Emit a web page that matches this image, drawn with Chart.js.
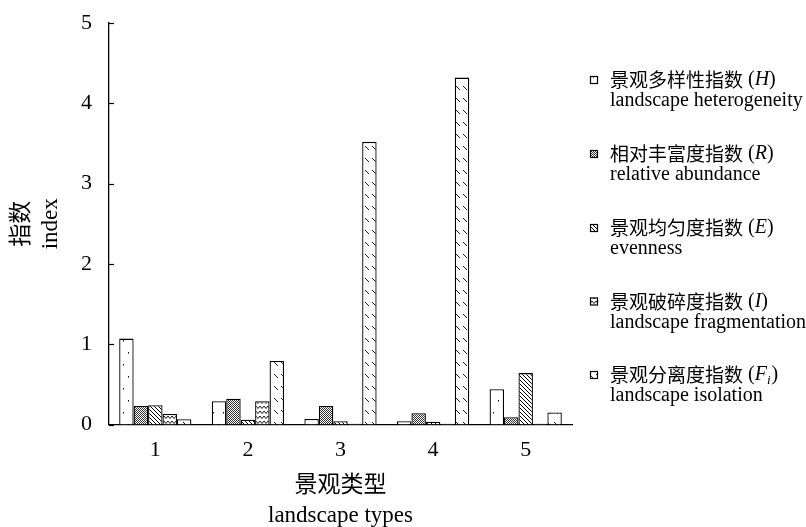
<!DOCTYPE html>
<html>
<head>
<meta charset="utf-8">
<script src="https://cdn.jsdelivr.net/npm/chart.js@4.4.1/dist/chart.umd.min.js"></script>
<style>
  html, body { margin: 0; padding: 0; background: #fff; }
  #wrap { width: 806px; height: 527px; }
</style>
</head>
<body>
<div id="wrap"><canvas id="myChart" width="806" height="527"></canvas></div>
<script>
var categories = ["1", "2", "3", "4", "5"];
var valuesH  = [1.07, 0.29, 0.07, 0.04, 0.44];
var valuesR  = [0.23, 0.32, 0.23, 0.14, 0.09];
var valuesE  = [0.24, 0.06, 0.04, 0.035, 0.64];
var valuesI  = [0.13, 0.29, 0.01, 0.01, 0.01];
var valuesFi = [0.065, 0.79, 3.52, 4.32, 0.15];
var yTicks = [0, 1, 2, 3, 4, 5];

var seriesZh  = ["景观多样性指数", "相对丰富度指数", "景观均匀度指数", "景观破碎度指数", "景观分离度指数"];
var seriesSym = ["H", "R", "E", "I", "F"];
var seriesSub = ["", "", "", "", "i"];
var seriesEn  = ["landscape heterogeneity", "relative abundance", "evenness", "landscape fragmentation", "landscape isolation"];

var serif = "'Liberation Serif', 'Noto Sans CJK SC', serif";
var cjk = "'Noto Sans CJK SC', 'Liberation Serif', sans-serif";

// little hatch tiles for the bar fills
function makePattern(w, h, draw) {
  var c = document.createElement("canvas");
  c.width = w; c.height = h;
  var g = c.getContext("2d");
  g.fillStyle = "#fff";
  g.fillRect(0, 0, w, h);
  g.fillStyle = "#000";
  g.strokeStyle = "#000";
  draw(g);
  return document.getElementById("myChart").getContext("2d").createPattern(c, "repeat");
}

var patDots = makePattern(10, 24, function (g) {
  g.fillRect(3, 4, 1, 1.5);
  g.fillRect(8, 16, 1, 1.5);
});
var patCross = makePattern(2, 2, function (g) {
  g.fillStyle = "#333";
  g.fillRect(0, 0, 1, 1);
  g.fillRect(1, 1, 1, 1);
});
var patDiag = makePattern(4, 4, function (g) {
  for (var i = 0; i < 4; i++) g.fillRect(i, i, 1, 1);
});
var patWave = makePattern(8, 5, function (g) {
  g.lineWidth = 0.9;
  g.beginPath();
  g.moveTo(0, 1); g.lineTo(2, 3.5); g.lineTo(4, 1); g.lineTo(6, 3.5); g.lineTo(8, 1);
  g.stroke();
});
var patDash = makePattern(7, 12, function (g) {
  g.lineWidth = 0.9;
  g.beginPath();
  g.moveTo(1, 2); g.lineTo(5, 6);
  g.stroke();
});

var fills = [patDots, patCross, patDiag, patWave, patDash];
var allValues = [valuesH, valuesR, valuesE, valuesI, valuesFi];

var datasets = allValues.map(function (vals, i) {
  return {
    label: seriesZh[i] + " (" + seriesSym[i] + seriesSub[i] + ") " + seriesEn[i],
    data: vals,
    backgroundColor: fills[i],
    borderColor: "#000",
    borderWidth: 1.3,
    categoryPercentage: 0.78,
    barPercentage: 1.0
  };
});

// ticks on the y axis point inward
var innerTicks = {
  id: "innerTicks",
  afterDraw: function (chart) {
    var ctx = chart.ctx, y = chart.scales.y, left = chart.chartArea.left;
    ctx.save();
    ctx.strokeStyle = "#000";
    ctx.lineWidth = 1.2;
    yTicks.forEach(function (v) {
      var py = Math.round(y.getPixelForValue(v)) + 0.5;
      ctx.beginPath();
      ctx.moveTo(left, py);
      ctx.lineTo(left + 5, py);
      ctx.stroke();
    });
    ctx.restore();
  }
};

// two-line legend at the right, symbol in italics
var sideLegend = {
  id: "sideLegend",
  afterDraw: function (chart) {
    var ctx = chart.ctx;
    var rows = [80, 154, 228, 301.5, 375];
    ctx.save();
    ctx.textBaseline = "middle";
    ctx.fillStyle = "#000";
    chart.data.datasets.forEach(function (ds, i) {
      var cy = rows[i];
      ctx.fillStyle = ds.backgroundColor;
      ctx.fillRect(590, cy - 4, 8, 8);
      ctx.strokeStyle = "#000";
      ctx.lineWidth = 1.2;
      ctx.strokeRect(590.5, cy - 3.5, 7, 7);
      ctx.fillStyle = "#000";

      var x = 610;
      ctx.font = "19px " + cjk;
      ctx.fillText(seriesZh[i], x, cy);
      x += ctx.measureText(seriesZh[i]).width + 5;
      ctx.font = "20px " + serif;
      ctx.fillText("(", x, cy);
      x += ctx.measureText("(").width;
      ctx.font = "italic 20px " + serif;
      ctx.fillText(seriesSym[i], x, cy);
      x += ctx.measureText(seriesSym[i]).width;
      if (seriesSub[i]) {
        ctx.font = "italic 13px " + serif;
        ctx.fillText(seriesSub[i], x, cy + 6);
        x += ctx.measureText(seriesSub[i]).width + 1;
      }
      ctx.font = "20px " + serif;
      ctx.fillText(")", x, cy);

      ctx.fillText(seriesEn[i], 610, cy + 21);
    });
    ctx.restore();
  }
};

new Chart("myChart", {
  type: "bar",
  data: {
    labels: categories,
    datasets: datasets
  },
  plugins: [innerTicks, sideLegend],
  options: {
    responsive: false,
    animation: false,
    layout: { padding: { top: 23, right: 234, left: 0, bottom: 0 } },
    plugins: {
      legend: { display: false },
      tooltip: { enabled: false }
    },
    scales: {
      x: {
        grid: { display: false, drawTicks: false },
        border: { display: true, color: "#000", width: 1.3 },
        ticks: { color: "#000", font: { family: serif, size: 22 }, padding: 13 },
        title: {
          display: true,
          text: ["景观类型", "landscape types"],
          color: "#000",
          font: { family: serif, size: 23, lineHeight: 1.3 },
          padding: { top: 0, bottom: -4 }
        },
        afterFit: function (s) { s.height = 102.5; s.paddingLeft = 0; s.paddingRight = 0; }
      },
      y: {
        min: 0,
        max: 5,
        grid: { display: false, drawTicks: false },
        border: { display: true, color: "#000", width: 1.3 },
        afterBuildTicks: function (s) { s.ticks = yTicks.map(function (v) { return { value: v }; }); },
        ticks: { color: "#000", font: { family: serif, size: 22 }, padding: 17 },
        title: {
          display: true,
          text: ["指数", "index"],
          color: "#000",
          font: { family: serif, size: 23, lineHeight: 1.26 },
          padding: { top: 7.5, bottom: 0 }
        },
        afterFit: function (s) { s.width = 109; s.paddingTop = 0; s.paddingBottom = 0; }
      }
    }
  }
});
</script>
</body>
</html>
